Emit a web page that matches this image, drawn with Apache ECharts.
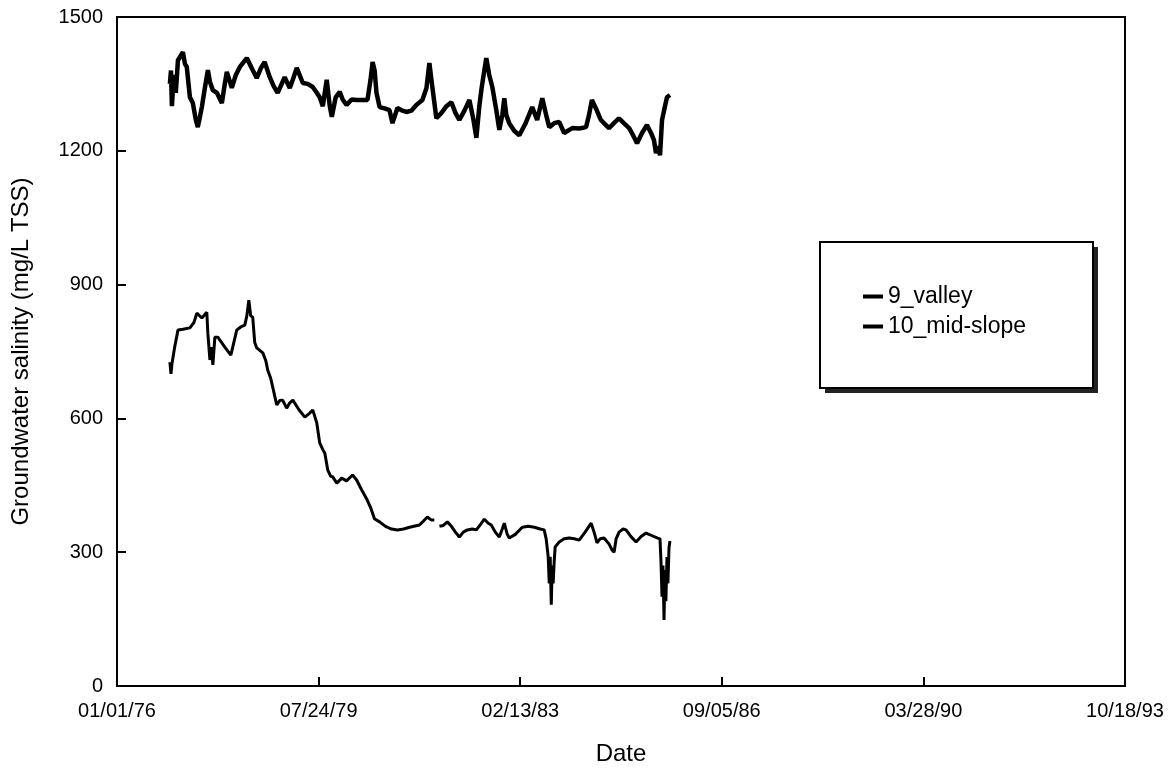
<!DOCTYPE html>
<html>
<head>
<meta charset="utf-8">
<script src="https://cdn.jsdelivr.net/npm/echarts@6/dist/echarts.min.js"></script>
<style>
html,body{margin:0;padding:0;background:#fff;}
#chart{width:1174px;height:773px;}
</style>
</head>
<body>
<div id="chart"></div>
<script>
// ---- Data ----
const xTickLabels = ['01/01/76', '07/24/79', '02/13/83', '09/05/86', '03/28/90', '10/18/93'];
const yTickValues = [0, 300, 600, 900, 1200, 1500];
const seriesNames = ['9_valley', '10_mid-slope'];

const valleyDates = [
'1976-12-07','1976-12-14','1976-12-20','1977-01-01','1977-01-14','1977-01-28','1977-03-01','1977-03-14','1977-03-26','1977-04-15',
'1977-05-04','1977-05-23','1977-06-05','1977-06-18','1977-07-01','1977-07-20','1977-08-09','1977-08-22','1977-09-10','1977-10-06',
'1977-11-07','1977-11-26','1977-12-09','1978-01-10','1978-02-05','1978-03-03','1978-04-17','1978-05-19','1978-06-20','1978-07-16',
'1978-08-10','1978-09-12','1978-10-07','1978-11-02','1978-12-17','1979-01-19','1979-02-08','1979-03-05','1979-04-13','1979-05-15',
'1979-06-16','1979-07-12','1979-07-31','1979-08-20','1979-09-14','1979-10-04','1979-10-17','1979-11-11','1979-12-07','1979-12-26',
'1980-01-20','1980-02-22','1980-03-25','1980-06-03','1980-06-23','1980-07-06','1980-07-19','1980-07-31','1980-08-20','1980-09-21',
'1980-10-23','1980-11-11','1980-12-13','1981-01-15','1981-02-09','1981-03-13','1981-04-15','1981-05-23','1981-06-18','1981-07-07',
'1981-07-20','1981-08-21','1981-09-23','1981-10-25','1981-11-26','1981-12-22','1982-01-16','1982-02-18','1982-03-22','1982-04-17',
'1982-05-06','1982-05-25','1982-06-07','1982-06-26','1982-07-09','1982-07-28','1982-08-17','1982-09-12','1982-10-01','1982-10-20',
'1982-11-02','1982-11-15','1982-12-04','1983-01-05','1983-02-07','1983-03-17','1983-05-01','1983-06-02','1983-07-05','1983-07-30',
'1983-08-19','1983-09-20','1983-10-22','1983-11-23','1984-01-14','1984-02-28','1984-04-12','1984-05-01','1984-05-20','1984-06-15',
'1984-07-17','1984-08-12','1984-09-07','1984-10-09','1984-11-10','1984-12-12','1985-01-15','1985-02-09','1985-03-07','1985-04-08',
'1985-05-10','1985-06-05','1985-06-24','1985-07-07','1985-07-20','1985-08-02','1985-08-15','1985-09-03','1985-09-16','1985-10-05'
];
const valleyValues = [
1350,1380,1300,1370,1330,1403,1421,1395,1388,1320,
1307,1270,1253,1275,1298,1340,1381,1355,1336,1330,
1307,1350,1377,1341,1370,1388,1408,1385,1363,1385,
1399,1365,1345,1330,1365,1341,1360,1386,1352,1350,
1343,1330,1320,1300,1359,1300,1276,1320,1332,1315,
1303,1315,1314,1314,1360,1399,1380,1330,1298,1295,
1291,1262,1296,1290,1287,1290,1303,1314,1340,1397,
1360,1273,1285,1300,1309,1285,1269,1290,1314,1270,
1229,1300,1336,1380,1408,1370,1343,1290,1247,1280,
1318,1280,1262,1245,1235,1260,1298,1269,1318,1280,
1253,1262,1265,1240,1251,1250,1253,1280,1314,1295,
1269,1260,1251,1262,1273,1262,1251,1235,1217,1240,
1258,1240,1224,1195,1210,1190,1269,1300,1320,1325
];

const midDates = [
'1976-12-07','1976-12-14','1976-12-20','1977-01-07','1977-01-28','1977-03-01','1977-04-15','1977-05-11','1977-05-30','1977-07-01',
'1977-08-02','1977-08-09','1977-08-22','1977-09-03','1977-09-10','1977-09-23','1977-10-12','1977-11-26','1978-01-04','1978-01-23',
'1978-02-11','1978-03-09','1978-04-04','1978-04-17','1978-04-30','1978-05-12','1978-05-25','1978-06-07','1978-06-20','1978-07-29',
'1978-08-17','1978-08-30','1978-09-18','1978-10-01','1978-10-14','1978-10-27','1978-11-15','1978-12-04','1978-12-30','1979-01-19',
'1979-02-08','1979-03-18','1979-04-26','1979-05-28','1979-06-16','1979-07-12','1979-07-31','1979-08-20','1979-09-02','1979-09-21',
'1979-10-10','1979-10-23','1979-11-18','1979-12-20','1980-01-20','1980-02-28','1980-03-25','1980-04-26','1980-05-28','1980-06-23',
'1980-07-18','1980-08-20','1980-09-27','1980-11-05','1980-12-13','1981-01-22','1981-03-02','1981-05-04','1981-05-30','1981-06-24',
'1981-07-20','1981-08-08','1981-08-25','1981-09-10','1981-10-05','1981-10-31','1981-11-26','1981-12-22','1982-01-16','1982-02-11',
'1982-03-09','1982-04-10','1982-05-06','1982-06-01','1982-06-26','1982-07-22','1982-08-10','1982-09-05','1982-10-01','1982-10-20',
'1982-11-02','1982-11-21','1982-12-04','1983-01-12','1983-02-26','1983-04-06','1983-05-14','1983-06-22','1983-07-17','1983-07-30',
'1983-08-12','1983-08-19','1983-08-25','1983-09-01','1983-09-07','1983-09-13','1983-09-20','1983-09-26','1983-10-22','1983-11-23',
'1983-12-25','1984-01-27','1984-02-28','1984-04-06','1984-05-15','1984-06-03','1984-06-22','1984-07-12','1984-08-06','1984-09-08',
'1984-09-27','1984-10-10','1984-10-23','1984-11-11','1984-12-07','1984-12-26','1985-01-27','1985-03-01','1985-04-02','1985-05-04',
'1985-06-05','1985-07-14','1985-08-02','1985-08-08','1985-08-15','1985-08-21','1985-08-28','1985-09-03','1985-09-09','1985-09-16',
'1985-09-22','1985-09-29','1985-10-05'
];
const midValues = [
726,700,722,760,798,800,803,815,836,825,
838,790,731,760,720,782,782,760,742,770,
798,805,809,830,865,830,827,770,758,747,
730,708,690,670,650,630,640,641,623,635,
641,620,603,612,619,590,545,530,522,484,
470,469,455,466,460,473,462,440,420,400,
375,368,358,352,350,352,356,361,370,379,
372,372,null,358,360,368,358,345,334,345,
350,352,350,362,374,365,361,345,334,352,
365,340,332,340,356,358,356,352,350,330,
290,230,290,182,270,230,280,312,323,330,
332,330,327,345,365,345,321,330,332,318,
305,300,330,345,352,350,335,323,335,343,
338,332,330,282,200,270,148,260,190,289,
230,310,325
];

// ---- helpers ----
const BASE = Date.UTC(1976, 0, 1);
const DAY = 86400000;
const X_MAX = 6499;               // 10/18/93 in days since 01/01/76
const X_INTERVAL = X_MAX / 5;
function toOffset(s) { return (Date.parse(s + 'T00:00:00Z') - BASE) / DAY; }
function pairs(dates, vals) {
  return dates.map((d, i) => [toOffset(d), vals[i] == null ? null : vals[i]]);
}

const FONT = "'Liberation Sans', Arial, Helvetica, sans-serif";
const chart = echarts.init(document.getElementById('chart'), null, {renderer: 'canvas'});

chart.setOption({
  backgroundColor: '#fff',
  animation: false,
  textStyle: {fontFamily: FONT, color: '#000'},
  grid: {
    left: 117, right: 49, top: 17, bottom: 87,
    show: true, borderColor: '#000', borderWidth: 2, backgroundColor: 'transparent'
  },
  xAxis: {
    type: 'value', min: 0, max: X_MAX, interval: X_INTERVAL,
    name: 'Date', nameLocation: 'middle', nameGap: 56,
    nameTextStyle: {fontSize: 24, color: '#000', fontFamily: FONT},
    axisLine: {show: true, lineStyle: {color: '#000', width: 2}},
    axisTick: {show: true, inside: true, length: 9, lineStyle: {color: '#000', width: 2}},
    axisLabel: {
      fontSize: 20, color: '#000', margin: 15, fontFamily: FONT,
      formatter: v => xTickLabels[Math.round(v / X_INTERVAL)] || ''
    },
    splitLine: {show: false}
  },
  yAxis: {
    type: 'value', min: yTickValues[0], max: yTickValues[yTickValues.length - 1], interval: yTickValues[1] - yTickValues[0],
    name: 'Groundwater salinity (mg/L TSS)', nameLocation: 'middle', nameGap: 84, nameRotate: 90,
    nameTextStyle: {fontSize: 24, color: '#000', fontFamily: FONT},
    axisLine: {show: true, lineStyle: {color: '#000', width: 2}},
    axisTick: {show: true, inside: true, length: 9, lineStyle: {color: '#000', width: 2}},
    axisLabel: {fontSize: 20, color: '#000', margin: 14, fontFamily: FONT, formatter: v => String(v)},
    splitLine: {show: false}
  },
  graphic: [
    {type: 'rect', z: 50, shape: {x: 825, y: 247, width: 273, height: 146}, style: {fill: '#222'}},
    {type: 'rect', z: 51, shape: {x: 820, y: 242, width: 273, height: 146}, style: {fill: '#fff', stroke: '#000', lineWidth: 2}}
  ],
  legend: {
    z: 60,
    left: 820, top: 242,
    orient: 'vertical',
    padding: [43, 10, 10, 43],
    itemWidth: 20, itemHeight: 4, itemGap: 7,
    icon: 'rect',
    textStyle: {fontSize: 23, color: '#000', fontFamily: FONT},
    data: seriesNames
  },
  series: [
    {
      name: seriesNames[0], type: 'line', showSymbol: false, symbol: 'none',
      data: pairs(valleyDates, valleyValues),
      lineStyle: {color: '#000', width: 4.5}, itemStyle: {color: '#000'}
    },
    {
      name: seriesNames[1], type: 'line', showSymbol: false, symbol: 'none', connectNulls: false,
      data: pairs(midDates, midValues),
      lineStyle: {color: '#000', width: 3}, itemStyle: {color: '#000'}
    }
  ]
});
</script>
</body>
</html>
